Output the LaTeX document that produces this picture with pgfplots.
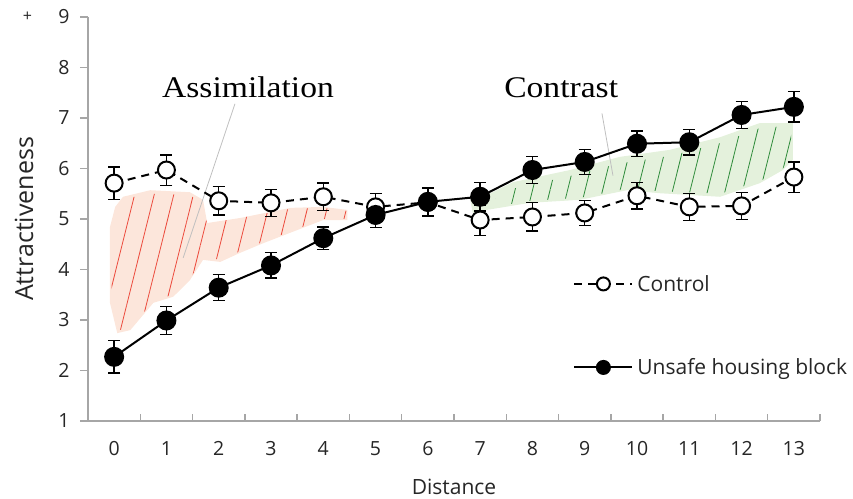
\documentclass[border=0pt]{standalone}
\usepackage{fontspec}
\setmainfont{Open Sans}
\newfontfamily\annfont[FakeStretch=1.12]{Liberation Serif}
\usepackage{pgfplots}
\pgfplotsset{compat=1.18}
\usetikzlibrary{patterns.meta}
\definecolor{axgray}{HTML}{A6A6A6}
\definecolor{txt}{HTML}{262626}
\definecolor{pinkfill}{HTML}{FCE6DB}
\definecolor{redstroke}{HTML}{EC4A3C}
\definecolor{greenfill}{HTML}{E4F1DC}
\definecolor{greenstroke}{HTML}{2E8B3A}
\begin{document}
\begin{tikzpicture}
\begin{axis}[
  scale only axis, width=732bp, height=404bp,
  xmin=-0.5, xmax=13.5, ymin=1, ymax=9,
  clip=false,
  axis x line=bottom, axis y line=left,
  axis line style={axgray, line width=1.3bp, -},
  xtick={0,...,13}, minor xtick={-0.5,0.5,...,13.5},
  ytick={1,...,9},
  xtick align=inside, ytick align=outside,
  major x tick style={draw=none},
  minor x tick style={axgray, line width=1.3bp},
  y tick style={axgray, line width=1.3bp},
  major tick length=8bp, minor tick length=7bp,
  /pgf/number format/assume math mode=true,
  tick label style={font=\fontsize{19.5bp}{22bp}\selectfont, text=txt},
  xticklabel style={yshift=-17bp},
  yticklabel style={xshift=-7bp},
  xlabel={Distance}, ylabel={Attractiveness},
  xlabel style={font=\fontsize{21bp}{24bp}\selectfont, text=txt, yshift=-16bp},
  ylabel style={font=\fontsize{25bp}{28bp}\selectfont, text=txt, yshift=18bp},
  legend style={draw=none, fill=none, at={(axis cs:8.78,3.97)}, anchor=north west,
    font=\fontsize{21bp}{24bp}\selectfont, text=txt, row sep=58bp, inner sep=0pt,
    nodes={inner sep=4bp}},
  legend cell align=left,
  legend image code/.code={\draw[mark repeat=2,mark phase=2,#1] plot coordinates {(0bp,0bp) (29bp,0bp) (58bp,0bp)};},
  legend image post style={mark size=6.5bp},
]
% shaded areas
\addplot[fill=pinkfill, draw=none, forget plot] coordinates {
 (0.02,5.24) (0.17,5.44) (0.69,5.57) (1.45,5.53) (1.70,5.38) (1.78,4.92) (2.41,5.02)
 (3.37,5.22) (4.00,5.24) (4.46,5.18) (4.46,4.98) (4.00,4.98) (2.85,4.52) (2.41,4.33)
 (2.03,4.15) (1.70,4.19) (1.45,3.79) (1.13,3.46) (0.75,3.34) (0.31,2.80) (0.06,2.74)
 (-0.08,3.34) (-0.08,4.84)} -- cycle;
\addplot[pattern={Lines[angle=76,distance=19bp,line width=0.8bp]}, pattern color=redstroke, draw=none, forget plot] coordinates {
 (0.05,5.2) (0.2,5.4) (0.69,5.5) (1.45,5.48) (1.65,5.3) (1.78,4.92) (2.41,5.02)
 (3.37,5.2) (4.00,5.22) (4.46,5.16) (4.46,5.0) (4.00,5.0) (2.85,4.55) (2.41,4.36)
 (2.03,4.2) (1.70,4.22) (1.45,3.82) (1.13,3.5) (0.75,3.38) (0.31,2.84) (0.08,2.8)
 (-0.05,3.34) (-0.05,4.84)} -- cycle;
\addplot[fill=greenfill, draw=none, forget plot] coordinates {
 (6.81,5.38) (7.06,5.44) (7.63,5.73) (8.72,5.97) (9.67,6.23) (10.63,6.37) (11.59,6.62)
 (12.35,6.90) (12.98,6.90) (12.98,6.17) (12.79,5.97) (12.35,5.71) (11.59,5.44)
 (10.44,5.51) (9.81,5.57) (8.91,5.38) (7.95,5.32) (7.13,5.18) (6.86,5.12)} -- cycle;
\addplot[pattern={Lines[angle=76,distance=17bp,line width=0.8bp]}, pattern color=greenstroke, draw=none, forget plot] coordinates {
 (7.3,5.4) (7.63,5.6) (8.72,5.85) (9.67,6.1) (10.63,6.25) (11.59,6.5)
 (12.35,6.8) (12.95,6.85) (12.95,6.2) (12.79,6.0) (12.35,5.75) (11.59,5.5)
 (10.44,5.55) (9.81,5.6) (8.91,5.42) (7.95,5.36) (7.3,5.25)} -- cycle;
% annotation leader lines
\addplot[black!25, line width=0.8bp, forget plot] coordinates {(2.31,7.28) (1.32,4.23)};
\addplot[black!25, line width=0.8bp, forget plot] coordinates {(9.33,7.09) (9.54,5.86)};
% Control
\addplot[black, line width=2bp, dash pattern=on 8bp off 6bp,
  mark=*, mark size=8.5bp, mark options={solid, fill=white, draw=black, line width=2bp},
  error bars/.cd, y dir=both, y explicit,
  error bar style={line width=1.3bp, solid, black},
  error mark options={rotate=90, mark size=6bp, line width=1.3bp, solid, black}]
coordinates {
 (0,5.71) +- (0,0.32)
 (1,5.97) +- (0,0.30)
 (2,5.36) +- (0,0.28)
 (3,5.32) +- (0,0.27)
 (4,5.44) +- (0,0.27)
 (5,5.24) +- (0,0.27)
 (6,5.33) +- (0,0.28)
 (7,4.98) +- (0,0.30)
 (8,5.04) +- (0,0.28)
 (9,5.12) +- (0,0.25)
 (10,5.46) +- (0,0.26)
 (11,5.24) +- (0,0.27)
 (12,5.26) +- (0,0.27)
 (13,5.83) +- (0,0.30)
};
\addlegendentry{Control}
% Unsafe housing block
\addplot[black, line width=2bp,
  mark=*, mark size=9bp, mark options={solid, fill=black, draw=black},
  error bars/.cd, y dir=both, y explicit,
  error bar style={line width=1.3bp, black},
  error mark options={rotate=90, mark size=6bp, line width=1.3bp, black}]
coordinates {
 (0,2.27) +- (0,0.32)
 (1,2.99) +- (0,0.28)
 (2,3.64) +- (0,0.26)
 (3,4.08) +- (0,0.25)
 (4,4.62) +- (0,0.22)
 (5,5.08) +- (0,0.25)
 (6,5.34) +- (0,0.28)
 (7,5.44) +- (0,0.28)
 (8,5.97) +- (0,0.27)
 (9,6.13) +- (0,0.25)
 (10,6.49) +- (0,0.25)
 (11,6.52) +- (0,0.25)
 (12,7.06) +- (0,0.27)
 (13,7.22) +- (0,0.30)
};
\addlegendentry{Unsafe housing block}
% annotations
\node[anchor=base, font=\annfont\fontsize{30bp}{30bp}\selectfont, text=black] at (axis cs:2.56,7.40) {Assimilation};
\node[anchor=base, font=\annfont\fontsize{30bp}{30bp}\selectfont, text=black] at (axis cs:8.55,7.40) {Contrast};
\node[font=\fontsize{16bp}{16bp}\selectfont, text=txt] at (axis cs:-1.66,9.0) {+};
\end{axis}
\pgfresetboundingbox
\path ([xshift=-88bp,yshift=-78bp]current axis.south west) rectangle ([xshift=33bp,yshift=17bp]current axis.north east);
\end{tikzpicture}
\end{document}
